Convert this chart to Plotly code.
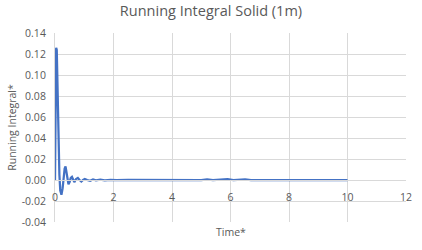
import plotly.graph_objects as go

time = [0.0, 0.02, 0.04, 0.06, 0.08, 0.10, 0.12, 0.15, 0.18, 0.22, 0.26, 0.30, 0.33, 0.36,
        0.39, 0.42, 0.46, 0.50, 0.54, 0.58, 0.62, 0.66, 0.72, 0.78, 0.84, 0.90, 0.96, 1.02,
        1.1, 1.2, 1.3, 1.4, 1.55, 1.7, 1.9, 2.1, 2.5, 3.0, 3.5, 4.0, 4.5, 5.0, 5.2, 5.4,
        5.9, 6.1, 6.5, 6.7, 8.0, 10.0]
running_integral = [0.0, 0.09, 0.126, 0.124, 0.10, 0.06, 0.03, 0.005, -0.010, -0.014, -0.008,
                    0.004, 0.011, 0.013, 0.008, 0.0, -0.004, -0.002, 0.002, 0.003, 0.0, -0.002,
                    0.001, 0.002, 0.0, -0.0015, 0.0, 0.001, 0.0, -0.0008, 0.0005, -0.0003,
                    0.0003, -0.0003, 0.0002, -0.0002, 0.0001, 0.0, -0.0002, 0.0, 0.0, 0.0,
                    0.0006, 0.0, 0.0008, 0.0, 0.0006, 0.0, 0.0, 0.0]

x_ticks = [0, 2, 4, 6, 8, 10, 12]
y_ticks = [-0.04, -0.02, 0.0, 0.02, 0.04, 0.06, 0.08, 0.10, 0.12, 0.14]

title_text = "Running Integral Solid (1m)"
x_title = "Time*"
y_title = "Running Integral*"

font_family = "Open Sans, Liberation Sans, sans-serif"
grid = "#D9D9D9"
text_col = "#595959"

y_min, y_max = -0.04, 0.14
zero_pos = (0 - y_min) / (y_max - y_min)

fig = go.Figure()
fig.add_trace(go.Scatter(x=time, y=running_integral, mode="lines",
                         line=dict(color="#4472C4", width=2.25), showlegend=False))

plot_top, plot_bottom = 33, 222

fig.update_layout(
    width=422, height=250,
    margin=dict(l=55, r=10, t=33, b=28),
    paper_bgcolor="white", plot_bgcolor="white",
    title=dict(text=title_text, x=0.5, xanchor="center", y=0.955, yanchor="middle",
               font=dict(family=font_family, size=14.5, color=text_col)),
    font=dict(family=font_family, color=text_col),
    xaxis=dict(range=[0, 12], tickvals=x_ticks, ticktext=[str(v) for v in x_ticks],
               showgrid=True, gridcolor=grid, gridwidth=1,
               zeroline=False, showline=True, linecolor=grid, linewidth=1,
               anchor="free", position=zero_pos, ticks="",
               tickfont=dict(size=10.5, color=text_col), ticklabelstandoff=7),
    yaxis=dict(range=[y_min, y_max], tickvals=y_ticks,
               ticktext=[f"{v:.2f}" for v in y_ticks],
               showgrid=True, gridcolor=grid, gridwidth=1,
               zeroline=False, showline=True, linecolor=grid, linewidth=1,
               ticks="", tickfont=dict(size=10.5, color=text_col), ticklabelstandoff=6,
               title=dict(text=y_title, font=dict(size=10.5, color=text_col), standoff=3)),
    annotations=[dict(text=x_title, x=0.5, xref="paper",
                      y=(plot_bottom - 232) / (plot_bottom - plot_top), yref="paper",
                      yanchor="middle", showarrow=False,
                      font=dict(size=10.5, color=text_col))],
)

fig.write_html("out.html")
